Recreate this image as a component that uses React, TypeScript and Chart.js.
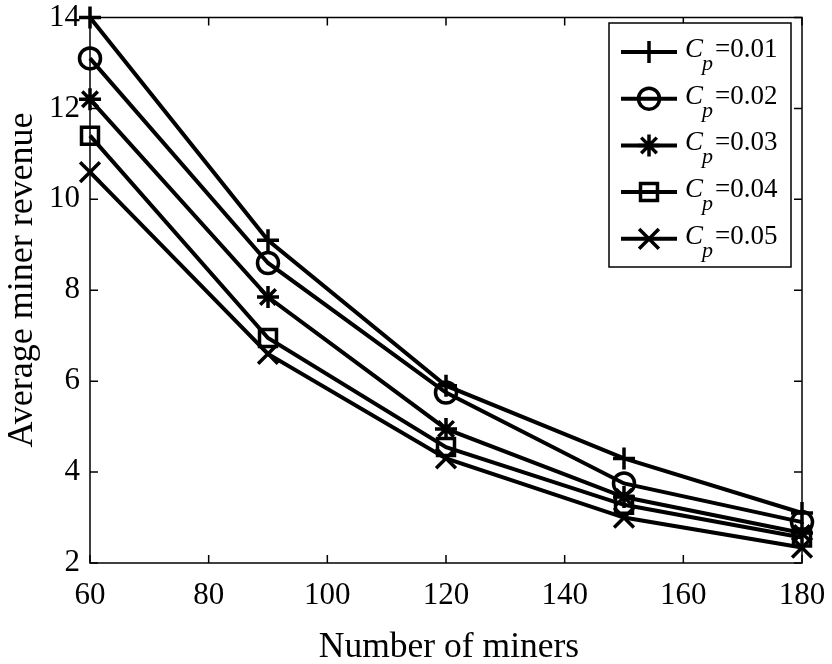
import React, { useEffect, useRef } from "react";
import { Chart, registerables } from "chart.js";

Chart.register(...registerables);

const minersX = [60, 90, 120, 150, 180];
const cp001 = [14.0, 9.1, 5.9, 4.3, 3.1];
const cp002 = [13.1, 8.6, 5.75, 3.75, 2.9];
const cp003 = [12.2, 7.85, 4.95, 3.45, 2.66];
const cp004 = [11.4, 6.95, 4.55, 3.28, 2.56];
const cp005 = [10.6, 6.6, 4.3, 3.0, 2.34];
const seriesLabels = ["0.01", "0.02", "0.03", "0.04", "0.05"];
const seriesValues = [cp001, cp002, cp003, cp004, cp005];
const pointStyles = ["cross", "circle", "star", "rect", "crossRot"];
const pointRadii = [11, 10.5, 11, 12, 14];
const xTicks = [60, 80, 100, 120, 140, 160, 180];
const yTicks = [2, 4, 6, 8, 10, 12, 14];

const SERIF = '"Liberation Serif", "Times New Roman", serif';

function drawMarker(ctx: CanvasRenderingContext2D, style: string, x: number, y: number, r: number) {
  ctx.beginPath();
  const d = r * Math.SQRT1_2;
  if (style === "cross" || style === "star") {
    ctx.moveTo(x - r, y);
    ctx.lineTo(x + r, y);
    ctx.moveTo(x, y - r);
    ctx.lineTo(x, y + r);
  }
  if (style === "crossRot" || style === "star") {
    ctx.moveTo(x - d, y - d);
    ctx.lineTo(x + d, y + d);
    ctx.moveTo(x - d, y + d);
    ctx.lineTo(x + d, y - d);
  }
  if (style === "circle") {
    ctx.arc(x, y, r, 0, Math.PI * 2);
  }
  if (style === "rect") {
    ctx.rect(x - d, y - d, 2 * d, 2 * d);
  }
  ctx.stroke();
}

const framePlugin = {
  id: "framePlugin",
  afterDraw(chart: any) {
    const ctx: CanvasRenderingContext2D = chart.ctx;
    const { left, right, top, bottom } = chart.chartArea;
    const xs = chart.scales.x;
    const ys = chart.scales.y;
    ctx.save();
    ctx.strokeStyle = "#000";
    ctx.lineWidth = 1.5;
    ctx.strokeRect(left, top, right - left, bottom - top);
    const tl = 8;
    ctx.beginPath();
    xTicks.forEach((v) => {
      const px = xs.getPixelForValue(v);
      ctx.moveTo(px, bottom);
      ctx.lineTo(px, bottom - tl);
      ctx.moveTo(px, top);
      ctx.lineTo(px, top + tl);
    });
    yTicks.forEach((v) => {
      const py = ys.getPixelForValue(v);
      ctx.moveTo(left, py);
      ctx.lineTo(left + tl, py);
      ctx.moveTo(right, py);
      ctx.lineTo(right - tl, py);
    });
    ctx.stroke();

    // axis titles
    ctx.fillStyle = "#000";
    ctx.textAlign = "center";
    ctx.textBaseline = "alphabetic";
    ctx.font = `35.5px ${SERIF}`;
    ctx.fillText("Number of miners", 449, 657);
    ctx.save();
    ctx.translate(32, 280);
    ctx.rotate(-Math.PI / 2);
    ctx.font = `36px ${SERIF}`;
    ctx.fillText("Average miner revenue", 0, 0);
    ctx.restore();

    // legend
    const bx = 609, by = 23, bw = 182, bh = 244;
    ctx.fillStyle = "#fff";
    ctx.fillRect(bx, by, bw, bh);
    ctx.lineWidth = 1.5;
    ctx.strokeRect(bx, by, bw, bh);
    seriesLabels.forEach((lab, i) => {
      const ly = 52 + i * 46.7;
      ctx.strokeStyle = "#000";
      ctx.lineWidth = 4;
      ctx.beginPath();
      ctx.moveTo(621, ly);
      ctx.lineTo(677, ly);
      ctx.stroke();
      ctx.lineWidth = 3.5;
      drawMarker(ctx, pointStyles[i], 649, ly, pointRadii[i]);
      ctx.fillStyle = "#000";
      ctx.textAlign = "left";
      ctx.textBaseline = "alphabetic";
      ctx.font = `italic 27px ${SERIF}`;
      ctx.fillText("C", 685, ly + 5);
      ctx.font = `italic 22px ${SERIF}`;
      ctx.fillText("p", 702, ly + 18);
      ctx.font = `27px ${SERIF}`;
      ctx.fillText("=" + lab, 715, ly + 5);
    });
    ctx.restore();
  },
};

export default function App() {
  const ref = useRef<HTMLCanvasElement | null>(null);
  useEffect(() => {
    if (!ref.current) return;
    const datasets = seriesValues.map((vals, i) => ({
      label: "Cp=" + seriesLabels[i],
      data: minersX.map((x, j) => ({ x, y: vals[j] })),
      borderColor: "#000",
      backgroundColor: "rgba(0,0,0,0)",
      borderWidth: 4,
      pointStyle: pointStyles[i],
      pointRadius: pointRadii[i],
      pointBorderWidth: 3.5,
      pointBorderColor: "#000",
      pointBackgroundColor: "rgba(0,0,0,0)",
      fill: false,
      tension: 0,
      clip: false,
    }));
    const chart = new Chart(ref.current, {
      type: "line",
      data: { datasets },
      options: {
        animation: false,
        responsive: false,
        devicePixelRatio: 1,
        layout: { padding: { left: 0, right: 30, top: 15, bottom: 0 } },
        plugins: { legend: { display: false }, tooltip: { enabled: false } },
        scales: {
          x: {
            type: "linear",
            min: 60,
            max: 180,
            grid: { display: false, drawTicks: false },
            border: { display: false },
            afterBuildTicks: (s: any) => {
              s.ticks = xTicks.map((v) => ({ value: v }));
            },
            ticks: {
              color: "#000",
              font: { family: SERIF, size: 31, lineHeight: 1 },
              padding: 17,
              maxRotation: 0,
              autoSkip: false,
            },
            afterFit: (s: any) => {
              s.height = 101;
              s.paddingLeft = 0;
              s.paddingRight = 0;
            },
          },
          y: {
            type: "linear",
            min: 2,
            max: 14,
            grid: { display: false, drawTicks: false },
            border: { display: false },
            afterBuildTicks: (s: any) => {
              s.ticks = yTicks.map((v) => ({ value: v }));
            },
            ticks: {
              color: "#000",
              font: { family: SERIF, size: 31, lineHeight: 1 },
              padding: 10,
              autoSkip: false,
            },
            afterFit: (s: any) => {
              s.width = 90;
              s.paddingTop = 0;
              s.paddingBottom = 0;
            },
          },
        },
      },
      plugins: [framePlugin],
    });
    return () => chart.destroy();
  }, []);
  return (
    <div style={{ position: "fixed", left: 0, top: 0, width: 832, height: 664, background: "#fff" }}>
      <canvas ref={ref} width={832} height={664} style={{ width: 832, height: 664, display: "block" }} />
    </div>
  );
}
